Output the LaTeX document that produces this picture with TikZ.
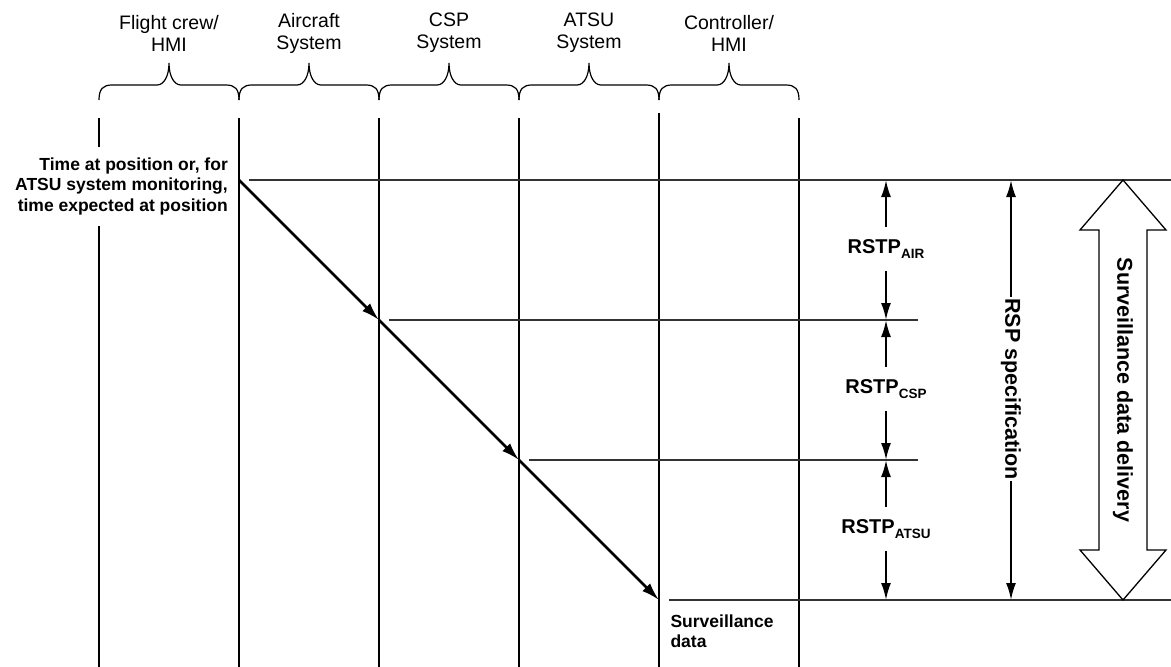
\documentclass[tikz,border=0pt]{standalone}
\usepackage{fontspec}
\setmainfont{Liberation Sans}
\usetikzlibrary{arrows.meta}
\newcommand\mysub[1]{\raisebox{-4.5pt}{\fontsize{13.5}{13.5}\selectfont #1}}
\begin{document}
\begin{tikzpicture}[x=1pt,y=-1pt,
  lane/.style={line width=2.5pt},
  hline/.style={line width=1.3pt, draw=black!80},
  brc/.style={line width=1.2pt},
  flow/.style={line width=2.5pt, -{Latex[length=18pt,width=11pt]}},
  dim/.style={line width=2pt, -{Latex[length=17pt,width=10pt]}},
  hdr/.style={font=\fontsize{19.5}{22}\selectfont, align=center},
  lbl/.style={font=\bfseries\fontsize{17.5}{20.5}\selectfont},
  dimlbl/.style={font=\bfseries\fontsize{20}{24}\selectfont, inner sep=0pt, minimum height=44pt},
  rotlbl/.style={font=\bfseries\fontsize{21.5}{24}\selectfont, inner sep=1pt, rotate=-90}
]
\useasboundingbox (0,0) rectangle (1171,667);

% headers
\node[hdr] (hd1) at (169,33) {Flight crew/\\HMI};
\node[hdr] (hd2) at (309,33) {Aircraft\\System};
\node[hdr] (hd3) at (449,33) {CSP\\System};
\node[hdr] (hd4) at (589,33) {ATSU\\System};
\node[hdr] (hd5) at (729,33) {Controller/\\HMI};

% braces
\foreach \a/\b in {99/239,239/379,379/519,519/659,659/799} {
  \pgfmathsetmacro\m{(\a+\b)/2}
  \draw[brc] (\a,100) .. controls (\a,89) and (\a+4,85) .. (\a+13,85)
    -- (\m-12,85) .. controls (\m-5,85) and (\m,76) .. (\m,63)
    .. controls (\m,76) and (\m+5,85) .. (\m+12,85)
    -- (\b-13,85) .. controls (\b-4,85) and (\b,89) .. (\b,100);
}

% lanes
\foreach \x/\y [count=\i] in {99/118,239/118,379/118,519/118,659/113,799/118} {
  \coordinate (t\i) at (\x,\y);
  \coordinate (b\i) at (\x,667);
  \draw[lane] (t\i) -- (b\i);
}

% horizontal reference lines
\coordinate (h1a) at (249,180); \coordinate (h1b) at (1171,180);
\coordinate (h2a) at (389,320); \coordinate (h2b) at (918,320);
\coordinate (h3a) at (529,460); \coordinate (h3b) at (918,460);
\coordinate (h4a) at (669,600); \coordinate (h4b) at (1171,600);
\draw[hline] (h1a) -- (h1b);
\draw[hline] (h2a) -- (h2b);
\draw[hline] (h3a) -- (h3b);
\draw[hline] (h4a) -- (h4b);

% diagonal flow
\coordinate (p0) at (239,180);
\coordinate (p1) at (379,320);
\coordinate (p2) at (519,460);
\coordinate (p3) at (659,600);
\draw[flow] (p0) -- (p1);
\draw[flow] (p1) -- (p2);
\draw[flow] (p2) -- (p3);

% labels
\node[lbl, align=right, anchor=east, fill=white, inner sep=3pt, minimum height=79pt] (start) at (231,186)
  {Time at position or, for\\ATSU system monitoring,\\time expected at position};
\node[lbl, align=left, anchor=west] (end) at (667,631) {Surveillance\\data};

% RSTP dimensions
\coordinate (d0) at (886,180);
\coordinate (d1) at (886,320);
\coordinate (d2) at (886,460);
\coordinate (d3) at (886,600);
\node[dimlbl] (air) at (886,249) {RSTP\mysub{AIR}};
\node[dimlbl] (csp) at (886,389) {RSTP\mysub{CSP}};
\node[dimlbl] (atsu) at (886,529) {RSTP\mysub{ATSU}};
\draw[dim] (air) -- (d0); \draw[dim] (air) -- (d1);
\draw[dim] (csp) -- (d1); \draw[dim] (csp) -- (d2);
\draw[dim] (atsu) -- (d2); \draw[dim] (atsu) -- (d3);

% RSP specification
\coordinate (r0) at (1011,180);
\coordinate (r1) at (1011,600);
\node[rotlbl] (rsp) at (1011,389) {RSP specification};
\draw[dim] (rsp) -- (r0);
\draw[dim] (rsp) -- (r1);

% Surveillance data delivery double arrow
\draw[line width=1.3pt, fill=white]
  (1123,180) -- (1166,230) -- (1147,230) -- (1147,550) -- (1166,550)
  -- (1123,600) -- (1080,550) -- (1099,550) -- (1099,230) -- (1080,230) -- cycle;
\node[rotlbl] (sdd) at (1123,390) {Surveillance data delivery};
\end{tikzpicture}
\end{document}
